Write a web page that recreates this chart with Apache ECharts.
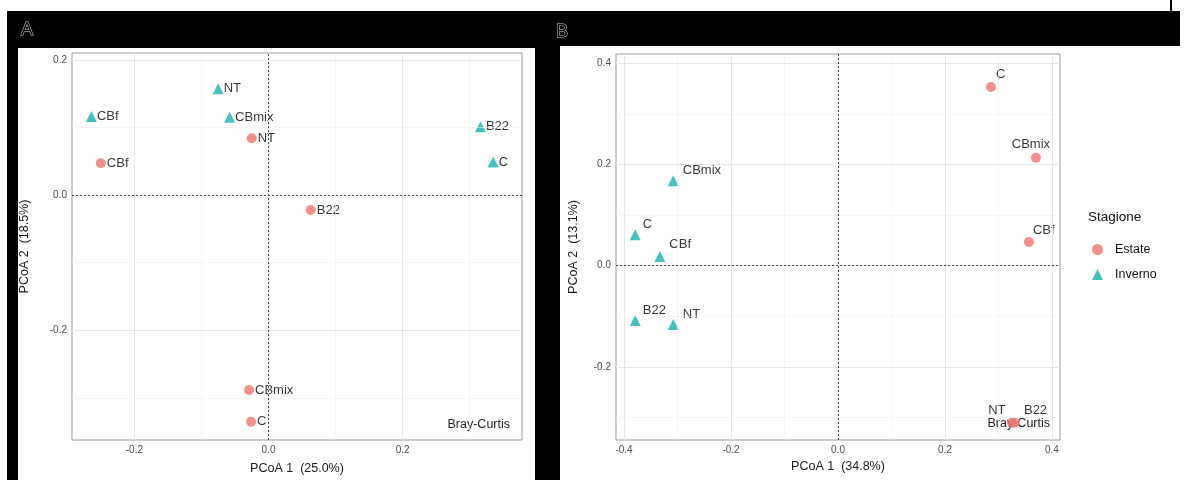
<!DOCTYPE html>
<html><head><meta charset="utf-8">
<script src="https://cdn.jsdelivr.net/npm/echarts@6/dist/echarts.min.js"></script>
<style>html,body{margin:0;padding:0;background:#fff}#c{width:1187px;height:480px}</style>
</head><body><div id="c"></div><script>
// ---- data ----
const samples = ['B22', 'C', 'CBf', 'CBmix', 'NT'];
const aEstateX = [0.063, -0.026, -0.250, -0.029, -0.025];
const aEstateY = [-0.022, -0.335, 0.047, -0.288, 0.084];
const aInvernoX = [0.316, 0.335, -0.264, -0.058, -0.075];
const aInvernoY = [0.101, 0.049, 0.116, 0.115, 0.157];
const bEstateX = [0.330, 0.286, 0.357, 0.370, 0.325];
const bEstateY = [-0.310, 0.353, 0.047, 0.213, -0.310];
const bInvernoX = [-0.379, -0.379, -0.333, -0.308, -0.308];
const bInvernoY = [-0.108, 0.061, 0.018, 0.168, -0.116];
const aXTicks = [-0.2, 0.0, 0.2];
const aYTicks = [-0.2, 0.0, 0.2];
const aXMinor = [-0.1, 0.1, 0.3];
const aYMinor = [-0.3, -0.1, 0.1];
const bXTicks = [-0.4, -0.2, 0.0, 0.2, 0.4];
const bYTicks = [-0.2, 0.0, 0.2, 0.4];
const bXMinor = [-0.3, -0.1, 0.1, 0.3];
const bYMinor = [-0.3, -0.1, 0.1, 0.3];
const aXTitle = 'PCoA 1  (25.0%)', aYTitle = 'PCoA 2  (18.5%)';
const bXTitle = 'PCoA 1  (34.8%)', bYTitle = 'PCoA 2  (13.1%)';
const seasons = ['Estate', 'Inverno'];

// ---- styles ----
const RED = '#EE7470', TEAL = '#14B2AA';
const FONT = 'Liberation Sans, Arial, sans-serif';
const bLabelEstate = {
  B22: {position: 'top', offset: [21, 1]},
  C: {position: 'right', offset: [-2, -13]},
  CBf: {position: 'right', offset: [-3, -12]},
  CBmix: {position: 'top', offset: [-5, 0]},
  NT: {position: 'top', offset: [-15, 1]}
};
const bLabelInverno = {
  B22: {position: 'right', offset: [0, -10]},
  C: {position: 'right', offset: [0, -10]},
  CBf: {position: 'right', offset: [2, -12]},
  CBmix: {position: 'right', offset: [2, -10]},
  NT: {position: 'right', offset: [2, -10]}
};

function pts(xs, ys, placement) {
  return samples.map((n, i) => {
    const d = {name: n, value: [xs[i], ys[i]]};
    if (placement) d.label = placement[n];
    return d;
  });
}
function gridLines(xMaj, yMaj, xMin, yMin) {
  const d = [];
  xMin.forEach(v => d.push({xAxis: v, lineStyle: {color: '#f0f0f0', width: 0.6, type: 'solid'}}));
  yMin.forEach(v => d.push({yAxis: v, lineStyle: {color: '#f0f0f0', width: 0.6, type: 'solid'}}));
  xMaj.forEach(v => d.push({xAxis: v, lineStyle: {color: '#e6e6e6', width: 1, type: 'solid'}}));
  yMaj.forEach(v => d.push({yAxis: v, lineStyle: {color: '#e6e6e6', width: 1, type: 'solid'}}));
  d.push({xAxis: 0, lineStyle: {color: '#444', width: 1, type: [2, 2]}});
  d.push({yAxis: 0, lineStyle: {color: '#444', width: 1, type: [2, 2]}});
  return d;
}
function xAx(idx, min, max, ticks, title, gap) {
  return {
    type: 'value', gridIndex: idx, min, max,
    axisLine: {show: false},
    axisTick: {show: true, customValues: ticks, length: 3, lineStyle: {color: '#666'}},
    axisLabel: {customValues: ticks, formatter: v => v.toFixed(1), color: '#4d4d4d', fontSize: 10, margin: 5, fontFamily: FONT},
    splitLine: {show: false},
    name: title, nameLocation: 'middle', nameGap: gap,
    nameTextStyle: {color: '#1a1a1a', fontSize: 12.5, fontFamily: FONT}
  };
}
function yAx(idx, min, max, ticks, title, gap) {
  return {
    type: 'value', gridIndex: idx, min, max,
    axisLine: {show: false},
    axisTick: {show: true, customValues: ticks, length: 3, lineStyle: {color: '#666'}},
    axisLabel: {customValues: ticks, formatter: v => v.toFixed(1), color: '#4d4d4d', fontSize: 10, margin: 5, fontFamily: FONT},
    splitLine: {show: false},
    name: title, nameLocation: 'middle', nameGap: gap, nameRotate: 90,
    nameTextStyle: {color: '#1a1a1a', fontSize: 12.5, fontFamily: FONT}
  };
}
const labelBase = {show: true, color: '#000', fontSize: 13, fontFamily: FONT, formatter: p => p.name};

const chart = echarts.init(document.getElementById('c'), null, {renderer: 'canvas'});
chart.setOption({
  animation: false,
  backgroundColor: '#fff',
  textStyle: {fontFamily: FONT},
  graphic: [
    {type: 'rect', z: -100, silent: true, shape: {x: 7, y: 11, width: 1173, height: 469}, style: {fill: '#000'}},
    {type: 'rect', z: -99, silent: true, shape: {x: 18, y: 48, width: 517, height: 432}, style: {fill: '#fff'}},
    {type: 'rect', z: -99, silent: true, shape: {x: 560, y: 46, width: 627, height: 434}, style: {fill: '#fff'}},
    {type: 'line', z: -98, silent: true, shape: {x1: 1171, y1: 0, x2: 1171, y2: 12}, style: {stroke: '#000', lineWidth: 2}},
    {type: 'text', z: 5, silent: true, x: 21, y: 21, style: {text: 'A', fill: '#000', stroke: '#d5d5d5', lineWidth: 1, font: '18px ' + FONT}},
    {type: 'text', z: 5, silent: true, x: 556, y: 23, style: {text: 'B', fill: '#000', stroke: '#d5d5d5', lineWidth: 1, font: '18px ' + FONT}},
    {type: 'text', z: 0, silent: true, x: 510, y: 425, style: {text: 'Bray-Curtis', fill: '#222', font: '12.5px ' + FONT, align: 'right', verticalAlign: 'middle'}},
    {type: 'text', z: 0, silent: true, x: 1050, y: 424, style: {text: 'Bray-Curtis', fill: '#222', font: '12.5px ' + FONT, align: 'right', verticalAlign: 'middle'}},
    {type: 'text', z: 5, silent: true, x: 1088, y: 217, style: {text: 'Stagione', fill: '#111', font: '13.5px ' + FONT, verticalAlign: 'middle'}}
  ],
  legend: {
    data: [{name: seasons[0], icon: 'circle'}, {name: seasons[1], icon: 'triangle'}],
    orient: 'vertical', left: 1087, top: 238, itemWidth: 11, itemHeight: 11, itemGap: 12,
    textStyle: {color: '#111', fontSize: 12.5, fontFamily: FONT, padding: [0, 0, 0, 7]},
    selectedMode: false
  },
  grid: [
    {left: 72, top: 53, width: 450, height: 389, show: true, borderColor: '#9a9a9a', borderWidth: 1, backgroundColor: 'transparent'},
    {left: 616, top: 54, width: 444, height: 386, show: true, borderColor: '#9a9a9a', borderWidth: 1, backgroundColor: 'transparent'}
  ],
  xAxis: [
    xAx(0, -0.293, 0.378, aXTicks, aXTitle, 22),
    xAx(1, -0.415, 0.415, bXTicks, bXTitle, 20)
  ],
  yAxis: [
    yAx(0, -0.362, 0.21, aYTicks, aYTitle, 41),
    yAx(1, -0.344, 0.418, bYTicks, bYTitle, 36)
  ],
  series: [
    {type: 'scatter', xAxisIndex: 0, yAxisIndex: 0, data: [], silent: true,
     markLine: {silent: true, symbol: 'none', label: {show: false}, data: gridLines(aXTicks, aYTicks, aXMinor, aYMinor)}, z: 1},
    {type: 'scatter', xAxisIndex: 1, yAxisIndex: 1, data: [], silent: true,
     markLine: {silent: true, symbol: 'none', label: {show: false}, data: gridLines(bXTicks, bYTicks, bXMinor, bYMinor)}, z: 1},
    {name: seasons[0], type: 'scatter', xAxisIndex: 0, yAxisIndex: 0, symbol: 'circle', symbolSize: 10, z: 3,
     itemStyle: {color: RED}, label: Object.assign({}, labelBase, {position: 'right', distance: 1}),
     data: pts(aEstateX, aEstateY)},
    {name: seasons[1], type: 'scatter', xAxisIndex: 0, yAxisIndex: 0, symbol: 'triangle', symbolSize: 11, z: 3,
     itemStyle: {color: TEAL}, label: Object.assign({}, labelBase, {position: 'right', distance: 0}),
     data: pts(aInvernoX, aInvernoY)},
    {name: seasons[0], type: 'scatter', xAxisIndex: 1, yAxisIndex: 1, symbol: 'circle', symbolSize: 10, z: 3,
     itemStyle: {color: RED}, label: Object.assign({}, labelBase, {position: 'right', distance: 2}),
     data: pts(bEstateX, bEstateY, bLabelEstate)},
    {name: seasons[1], type: 'scatter', xAxisIndex: 1, yAxisIndex: 1, symbol: 'triangle', symbolSize: 11, z: 3,
     itemStyle: {color: TEAL}, label: Object.assign({}, labelBase, {position: 'right', distance: 2}),
     data: pts(bInvernoX, bInvernoY, bLabelInverno)}
  ]
});
</script></body></html>
